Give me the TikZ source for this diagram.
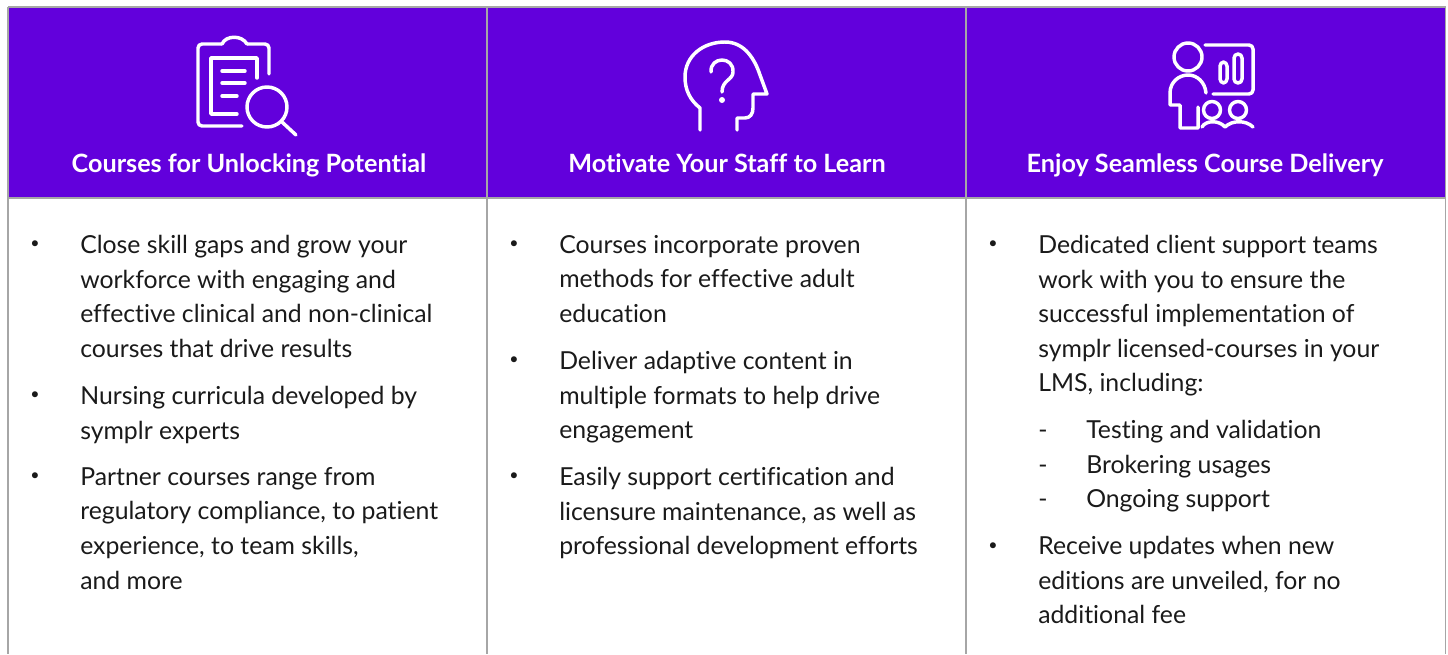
\documentclass[tikz,border=0pt]{standalone}
\usepackage{fontspec}
\setmainfont{Lato}[Ligatures=NoCommon]
\definecolor{headpurple}{HTML}{6200DC}
\definecolor{gridgray}{HTML}{A6A6A6}
\definecolor{bodytext}{HTML}{1A1A1A}
\tikzset{
  itemtext/.style={anchor=north west, align=left, inner sep=0pt, text=bodytext, font=\fontsize{18.6}{25.95}\selectfont},
  itembullet/.style={anchor=center, inner sep=0pt, text=bodytext, font=\fontsize{12}{14}\selectfont},
  headtext/.style={anchor=base, inner sep=0pt, text=white, font=\fontsize{18.9}{22}\selectfont\bfseries},
  icon/.style={draw=white, line width=2.6pt, line cap=round, line join=round},
  gridline/.style={draw=gridgray, line width=1pt}
}
\begin{document}
\begin{tikzpicture}[x=0.75pt, y=-0.75pt]
\useasboundingbox (0,0) rectangle (1448,654);

% header band
\fill[headpurple] (8,7) rectangle (1445.5,198);
\draw[gridline] (8,7) -- (1445.5,7);
\draw[gridline] (8,198) -- (1445.5,198);
\draw[gridline] (8,7) -- (8,654);
\draw[gridline] (487,7) -- (487,654);
\draw[gridline] (966,7) -- (966,654);
\draw[gridline] (1445.5,7) -- (1445.5,654);

% clipboard icon
\draw[icon, rounded corners=3pt] (242,126) -- (198,126) -- (198,44) -- (222,44);
\draw[icon] (222,44) .. controls (226,35) and (242,35) .. (247,44);
\draw[icon, rounded corners=3pt] (247,44) -- (269,44) -- (269,74);
\draw[icon] (237,114) -- (211,114) -- (211,58) -- (257,58) -- (257,78);
\draw[icon] (222,71) -- (245,71);
\draw[icon] (222,83) -- (245,83);
\draw[icon] (222,96) -- (237,96);
\draw[icon] (267,107) circle (20);
\draw[icon] (282,122) -- (296,135);

% head icon
\draw[icon] (700,130) -- (700,108) .. controls (690,100) and (685,90) .. (685,77)
  .. controls (685,56) and (703,42) .. (725,42)
  .. controls (745,42) and (755,60) .. (760,75) -- (767,94) -- (753,94) -- (753,108)
  .. controls (753,114) and (750,118) .. (745,118) -- (737,118) -- (737,130);
\draw[icon] (711,72) .. controls (710,56) and (734,56) .. (733,72)
  .. controls (733,80) and (722,80) .. (722,92);
\fill[white] (722,100) circle (3);

% presenter icon
\draw[icon] (1188,57) circle (14);
\draw[icon, rounded corners=3pt] (1205,45) -- (1253,45) -- (1253,94) -- (1213,94);
\draw[icon, rounded corners=3pt] (1220,62) rectangle (1227,83);
\draw[icon, rounded corners=3pt] (1234,54) rectangle (1242,83);
\draw[icon] (1206,93) .. controls (1205,82) and (1197,75) .. (1188,75)
  .. controls (1179,75) and (1170,82) .. (1170,93) -- (1170,105) -- (1180,105) -- (1180,128) -- (1198,128) -- (1198,107);
\draw[icon] (1212,110) circle (8.5);
\draw[icon] (1238,110) circle (8.5);
\draw[icon] (1202,127) .. controls (1206,120) and (1219,120) .. (1225,127)
  .. controls (1232,120) and (1246,120) .. (1253,127);

% header labels
\node[headtext] (headcourses) at (249,172) {Courses for Unlocking Potential};
\node[headtext] (headmotivate) at (727,172) {Motivate Your Staff to Learn};
\node[headtext] (headdelivery) at (1205,172) {Enjoy Seamless Course Delivery};

% left column
\node[itembullet] (bulletla) at (35,245) {•};
\node[itemtext] (itemla) at (80,235) {Close skill gaps and grow your\\workforce with engaging and\\effective clinical and non-clinical\\courses that drive results};
\node[itembullet] (bulletlb) at (35,396) {•};
\node[itemtext] (itemlb) at (80,386) {Nursing curricula developed by\\symplr experts};
\node[itembullet] (bulletlc) at (35,477) {•};
\node[itemtext] (itemlc) at (80,467) {Partner courses range from\\regulatory compliance, to patient\\experience, to team skills,\\and more};

% middle column
\node[itembullet] (bulletma) at (514,245) {•};
\node[itemtext] (itemma) at (559,235) {Courses incorporate proven\\methods for effective adult\\education};
\node[itembullet] (bulletmb) at (514,361) {•};
\node[itemtext] (itemmb) at (559,351) {Deliver adaptive content in\\multiple formats to help drive\\engagement};
\node[itembullet] (bulletmc) at (514,477) {•};
\node[itemtext] (itemmc) at (559,467) {Easily support certification and\\licensure maintenance, as well as\\professional development efforts};

% right column
\node[itembullet] (bulletra) at (993,245) {•};
\node[itemtext] (itemra) at (1038,235) {Dedicated client support teams\\work with you to ensure the\\successful implementation of\\symplr licensed-courses in your\\LMS, including:};
\node[itemtext] (dashra) at (1038,420) {\vphantom{d}-\\-\\-};
\node[itemtext] (itemrb) at (1086,420) {Testing and validation\\Brokering usages\\Ongoing support};
\node[itembullet] (bulletrb) at (993,547) {•};
\node[itemtext] (itemrc) at (1038,536) {Receive updates when new\\editions are unveiled, for no\\additional fee};
\end{tikzpicture}
\end{document}
